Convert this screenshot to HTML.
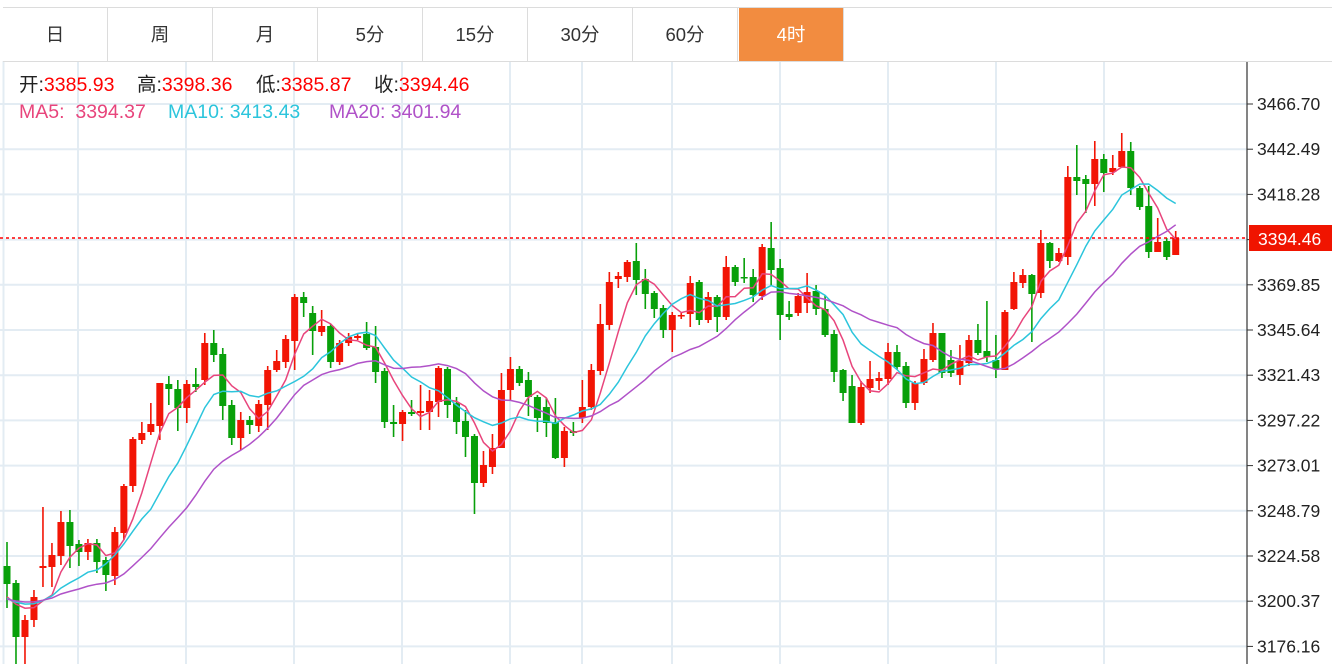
<!DOCTYPE html>
<html><head><meta charset="utf-8"><style>
html,body{margin:0;padding:0;background:#fff;}
body{width:1332px;height:664px;overflow:hidden;position:relative;font-family:"Liberation Sans","Noto Sans CJK SC",sans-serif;}
.tabs{position:absolute;left:3px;top:7px;height:53px;width:1329px;border-top:1px solid #dcdcdc;border-bottom:1px solid #dcdcdc;}
.tab{position:absolute;top:0;height:53px;width:104px;border-right:1px solid #dcdcdc;text-align:center;line-height:53px;font-size:18.5px;color:#333;}
.tab.on{background:#f28c40;color:#fff;}
.i{position:absolute;font-size:19.5px;white-space:nowrap;line-height:24px;}
</style></head><body>
<svg id="c" width="1332" height="664" style="position:absolute;left:0;top:0"></svg>
<div class="tabs">
<div class="tab" style="left:0">日</div>
<div class="tab" style="left:105px">周</div>
<div class="tab" style="left:210px">月</div>
<div class="tab" style="left:315px">5分</div>
<div class="tab" style="left:420px">15分</div>
<div class="tab" style="left:525px">30分</div>
<div class="tab" style="left:630px">60分</div>
<div class="tab on" style="left:736px">4时</div>
</div>
<div class="i" style="left:19px;top:73px;color:#222">开:<span style="color:#f00">3385.93</span></div>
<div class="i" style="left:137px;top:73px;color:#222">高:<span style="color:#f00">3398.36</span></div>
<div class="i" style="left:256px;top:73px;color:#222">低:<span style="color:#f00">3385.87</span></div>
<div class="i" style="left:374px;top:73px;color:#222">收:<span style="color:#f00">3394.46</span></div>
<div class="i" style="left:19px;top:100px;color:#e8457c">MA5:&nbsp;&nbsp;3394.37</div>
<div class="i" style="left:168px;top:100px;color:#2cc5dc">MA10:&nbsp;3413.43</div>
<div class="i" style="left:329px;top:100px;color:#b052c8">MA20:&nbsp;3401.94</div>
<script>
var D=[[566,584,542,608],[583,637,580,664],[637,620,615,664],[620,597,590,627],[568,566,507,587],[567,555,543,587],[556,522,511,565],[522,546,510,568],[544,552,540,566],[552,543,539,560],[543,562,539,573],[560,575,557,591],[576,532,527,585],[533,486,484,540],[486,439,437,492],[440,433,422,444],[432,424,403,435],[426,383,383,440],[384,389,376,405],[389,408,380,431],[408,384,380,423],[384,387,368,392],
[380,343,333,385],[343,355,330,362],[354,406,348,420],[405,438,400,445],[438,420,412,450],[420,425,416,434],[426,404,400,432],[405,370,366,430],[370,361,350,372],[362,339,335,368],[341,297,294,370],[297,303,292,317],[313,331,306,355],[332,326,310,336],[326,362,324,368],[362,343,340,365],[343,337,333,346],[338,336,334,340],[334,348,322,350],[347,372,326,383],[371,422,368,428],[422,424,405,437],[424,412,410,441],[412,414,400,416],[413,411,385,430],[412,401,390,430],[402,368,366,417],[369,405,367,418],[403,422,397,434],[421,437,410,457],[436,483,434,514],[483,465,451,487],[467,448,434,474],[448,390,373,448],[390,369,357,400],[369,383,366,386],[380,397,372,416],[397,418,395,432],[407,423,398,437],[422,458,398,459],[458,431,427,467],[431,433,422,436],[418,407,380,423],[407,370,364,410],[371,324,304,375],[325,282,272,330],[279,276,272,288],[277,262,260,282],[261,280,243,295],[279,294,269,309],[293,309,291,318],[308,330,305,338],[330,315,312,352],[316,315,313,319],[314,283,276,327],[282,320,280,325],[320,297,292,323],[297,317,295,332],[317,267,256,320],[267,282,265,286],[277,278,258,283],[277,295,269,302],[296,247,244,300],[248,270,222,286],[268,315,259,340],[314,317,301,320],[313,296,293,316],[303,292,273,313],[291,309,285,315],[309,335,295,337],[334,372,330,382],[370,393,369,401],[386,423,375,423],[423,387,381,425],[388,379,361,393],[381,378,372,390],[379,352,343,385],[352,367,345,370],[366,403,362,408],[403,383,381,410],[383,359,349,385],[360,333,323,362],[333,373,333,378],[360,373,350,377],[375,361,345,385],[363,340,335,366],[340,353,324,355],[351,357,301,362],[360,369,335,378],[370,312,310,370],[309,282,272,310],[283,275,269,288],[275,294,274,342],[293,243,230,298],[243,261,242,268],[261,253,248,262],[257,177,166,265],[177,181,145,195],[179,184,175,213],[184,159,141,206],[159,173,154,192],[172,168,155,175],[167,151,133,167],[151,188,142,195],[188,207,186,210],[206,252,186,258],[252,242,218,252],[241,257,238,260],[255,238,231,255]];
var s='';
var labels=['3466.70','3442.49','3418.28','3394.07','3369.85','3345.64','3321.43','3297.22','3273.01','3248.79','3224.58','3200.37','3176.16'];
s+='<line x1="3.5" y1="61" x2="3.5" y2="664" stroke="#e3ecf3" stroke-width="2"/>';
[78,186,294,402,510,582,672,780,888,996,1104].forEach(function(x){s+='<line x1="'+x+'" y1="61" x2="'+x+'" y2="664" stroke="#e3ecf3" stroke-width="2"/>';});
for(var k=0;k<13;k++){var y=104+k*45.2;s+='<line x1="0" y1="'+y+'" x2="1247" y2="'+y+'" stroke="#e3ecf3" stroke-width="2"/>';
 s+='<line x1="1247" y1="'+y+'" x2="1253" y2="'+y+'" stroke="#333" stroke-width="1"/>';
 if(k!=3)s+='<text x="1257" y="'+(y+6)+'" font-size="17.5" fill="#222" font-family="Liberation Sans,sans-serif">'+labels[k]+'</text>';}
s+='<line x1="1247" y1="61" x2="1247" y2="664" stroke="#333" stroke-width="1.2"/>';
s+='<g clip-path="url(#cp)">';
for(var i=0;i<D.length;i++){var d=D[i],x=7+8.99*i,o=d[0],c=d[1],up=c<=o,col=up?'#f21505':'#08a00a';
 s+='<line x1="'+x+'" y1="'+d[2]+'" x2="'+x+'" y2="'+d[3]+'" stroke="'+col+'" stroke-width="1.6"/>';
 var t=Math.min(o,c),h=Math.max(Math.abs(o-c),1.5);s+='<rect x="'+(x-3.5)+'" y="'+t+'" width="7" height="'+h+'" fill="'+col+'"/>';}
var C=[];for(var i=0;i<19;i++)C.push(600);D.forEach(function(d){C.push(d[1]);});
function ma(n,col){var p='';for(var i=0;i<D.length;i++){var j=i+19,sum=0;for(var k=0;k<n;k++)sum+=C[j-k];p+=(i?'L':'M')+(7+8.99*i).toFixed(1)+' '+(sum/n).toFixed(1);}
 s+='<path d="'+p+'" fill="none" stroke="'+col+'" stroke-width="1.5"/>';}
ma(5,'#e8457c');ma(10,'#2cc5dc');ma(20,'#b052c8');
s+='</g>';
s+='<line x1="0" y1="238" x2="1247" y2="238" stroke="#f00" stroke-width="1.5" stroke-dasharray="3,3"/>';
s+='<rect x="1249" y="225" width="83" height="26" fill="#f01400"/><text x="1258" y="245" font-size="17.5" fill="#fff" font-family="Liberation Sans,sans-serif">3394.46</text>';
document.getElementById('c').innerHTML='<defs><clipPath id="cp"><rect x="0" y="62" width="1247" height="602"/></clipPath></defs>'+s;
</script>
</body></html>
